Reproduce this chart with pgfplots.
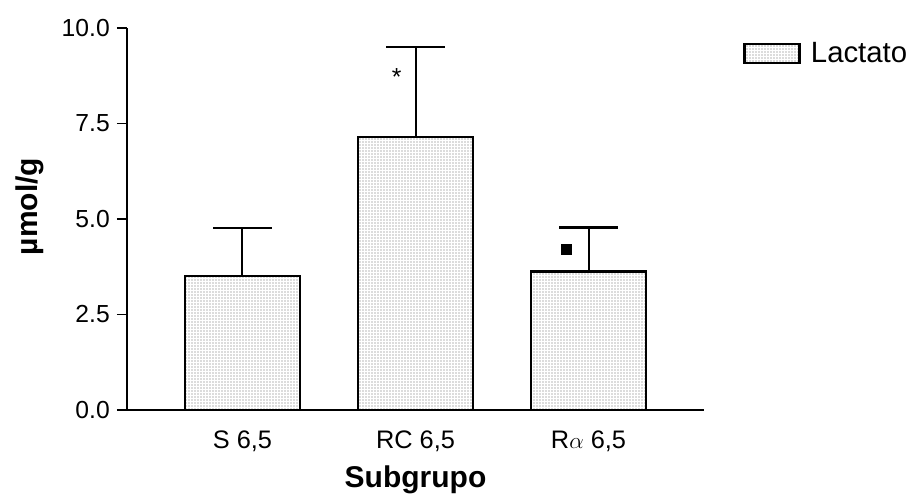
\documentclass[border=0pt]{standalone}
\usepackage{fontspec}
\setmainfont{Liberation Sans}
\usepackage{pgfplots}
\pgfplotsset{compat=1.18}
\usetikzlibrary{patterns.meta}
\pgfplotsset{mylegend/.style={legend image code/.code={\draw[##1] (0pt,-7.125pt) rectangle (41.25pt,7.125pt);}}}

\begin{document}
\begin{tikzpicture}
\useasboundingbox (-95.25pt,-62.25pt) rectangle (587.25pt,307.5pt);
\begin{axis}[
  at={(0,0)}, anchor=south west,
  scale only axis, width=432.75pt, height=286.5pt,
  xmin=-0.6676, xmax=2.6676, ymin=0, ymax=10,
  axis x line=bottom, axis y line=left,
  axis line style={-, line width=1.5pt, black},
  xtick={0,1,2},
  xticklabels={{S 6,5},{RC 6,5},{R$\alpha$ 6,5}},
  xtick style={draw=none},
  ytick={0,2.5,5,7.5,10},
  ytick style={line width=1.3pt, black},
  tick align=outside, major tick length=7.5pt,
  /pgf/number format/assume math mode=true,
  yticklabel={\pgfmathprintnumber[fixed, fixed zerofill, precision=1]{\tick}},
  yticklabel style={font=\fontsize{18.5}{20}\selectfont, anchor=east, inner sep=0pt, xshift=-5.25pt},
  xticklabel style={font=\fontsize{19}{21}\selectfont, anchor=base, inner sep=0pt, yshift=-21pt},
  xlabel={Subgrupo}, ylabel={µmol/g},
  label style={font=\bfseries\fontsize{22.5}{24}\selectfont},
  xlabel style={at={(axis description cs:0.5,-0.2016)}, anchor=base, inner sep=0pt},
  ylabel style={at={(axis description cs:-0.1681,0.533)}, anchor=center, inner sep=0pt},
  legend style={at={(rel axis cs:1.0676,0.933)}, anchor=west, draw=none, fill=none,
    font=\fontsize{22}{24}\selectfont, inner sep=0pt, nodes={inner sep=0pt}, column sep=7.5pt},
  clip=false,
]
\addplot[ybar, bar width=86.25pt, draw=black, line width=2pt,
  pattern={Dots[distance=2.25pt, radius=0.4pt]}, pattern color=black!60,
  mylegend,
  error bars/.cd, y dir=plus, y explicit,
  error bar style={line width=1.5pt, black, solid},
  error mark options={rotate=90, mark size=22pt, line width=1.8pt, black}]
  coordinates {(0,3.51) +- (0,1.26) (1,7.15) +- (0,2.36) (2,3.62) +- (0,1.16)};
\addlegendentry{Lactato}
\addplot[only marks, mark=square*, mark size=3.75pt, black, forget plot]
  coordinates {(1.874,4.21)};
\node[font=\fontsize{18.5}{20}\selectfont] at (axis cs:0.891,8.72) {*};
\end{axis}
\end{tikzpicture}
\end{document}
